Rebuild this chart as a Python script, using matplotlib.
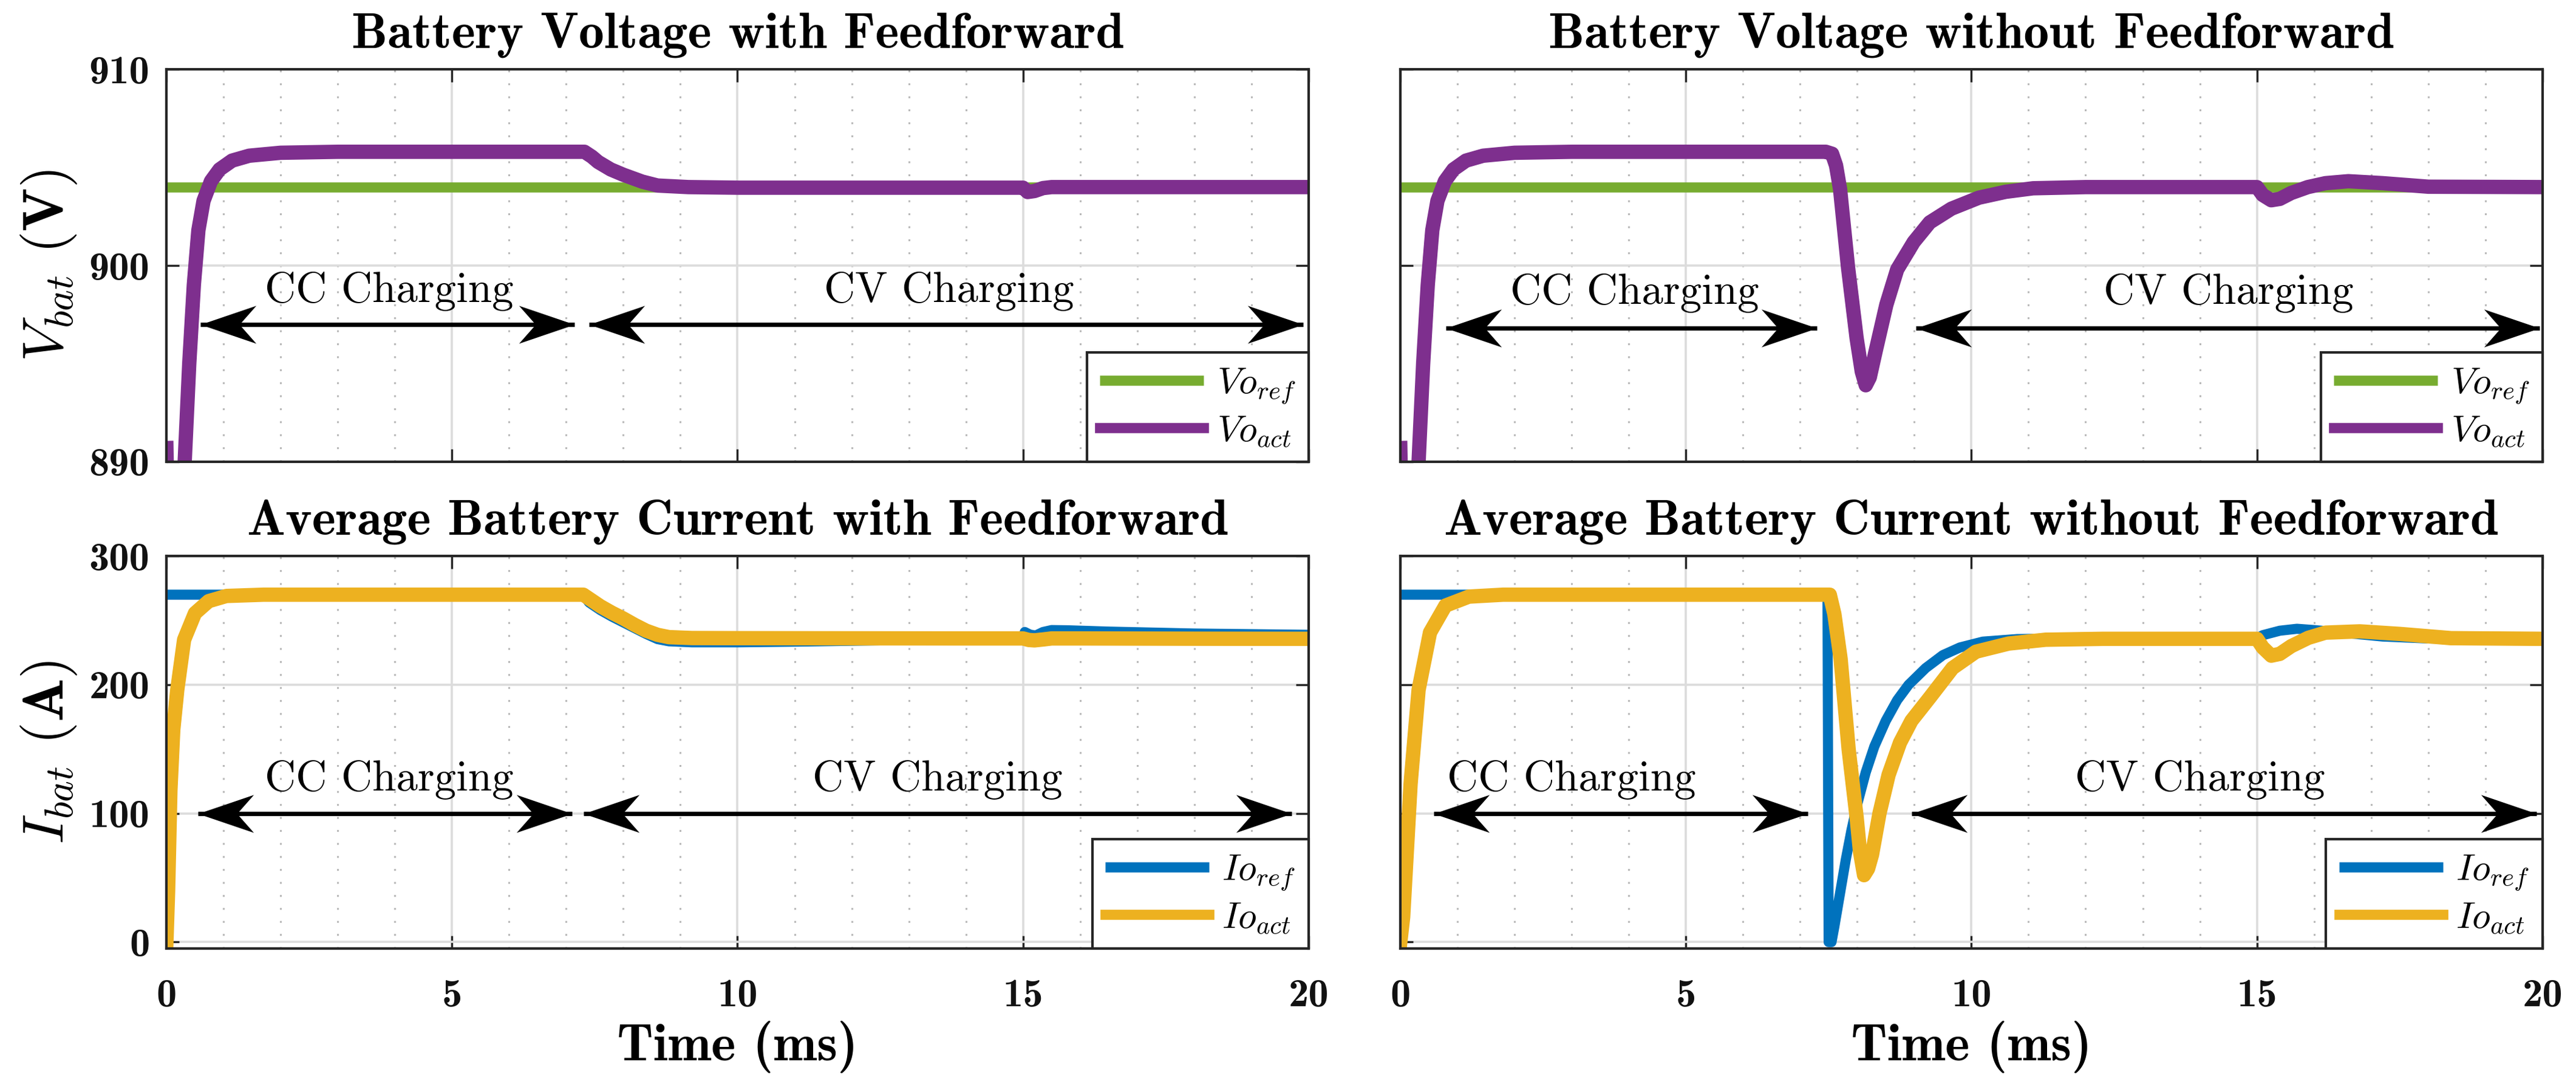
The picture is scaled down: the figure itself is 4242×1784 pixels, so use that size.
import matplotlib
matplotlib.use("Agg")
import matplotlib.pyplot as plt
from matplotlib.ticker import MultipleLocator, FixedLocator
from matplotlib.path import Path

plt.rcParams['mathtext.fontset'] = 'cm'
plt.rcParams['axes.unicode_minus'] = False

# ---------------- data ----------------
# Voltage, with feedforward
t_vref = [0, 20]
v_ref = [904.0, 904.0]

t_v_ff = [0, 0.03, 0.15, 0.28, 0.32, 0.4, 0.48, 0.56, 0.65, 0.78, 0.93, 1.15, 1.45, 2.0, 3.0,
          7.32, 7.45, 7.56, 7.78, 8.0, 8.33, 8.6, 9.14, 10, 12, 14, 15.0, 15.08, 15.2, 15.35,
          15.5, 16, 18, 20]
v_ff = [890.7, 886, 884, 888, 890, 895, 899, 901.8, 903.3, 904.3, 904.9, 905.35, 905.6, 905.75, 905.8,
        905.8, 905.55, 905.28, 904.9, 904.63, 904.28, 904.08, 904.0, 903.97, 903.97, 903.97, 903.97,
        903.75, 903.8, 903.95, 904.0, 904.0, 904.0, 904.0]

# Voltage, without feedforward
t_v_nff = [0, 0.03, 0.15, 0.28, 0.32, 0.4, 0.48, 0.56, 0.65, 0.78, 0.93, 1.15, 1.45, 2.0, 3.0,
           7.45, 7.56, 7.63, 7.7, 7.84, 7.99, 8.08, 8.15, 8.22, 8.32, 8.51, 8.7, 8.99, 9.27, 9.65,
           10.13, 10.6, 11.08, 12, 15, 15.1, 15.25, 15.4, 15.6, 15.89, 16.2, 16.6, 17.2, 18, 20]
v_nff = [890.7, 886, 884, 888, 890, 895, 899, 901.8, 903.3, 904.3, 904.9, 905.35, 905.6, 905.75, 905.8,
         905.8, 905.7, 905.1, 903.9, 899.9, 896.3, 894.6, 893.9, 894.3, 895.6, 898.0, 899.8, 901.2,
         902.2, 902.9, 903.46, 903.76, 903.94, 904.0, 904.0, 903.6, 903.33, 903.4, 903.7, 904.0,
         904.2, 904.3, 904.2, 904.02, 904.0]

# Current, with feedforward
t_iref_ff = [0, 7.3, 7.4, 7.6, 7.8, 8.0, 8.2, 8.4, 8.6, 8.8, 9.2, 10, 11, 12, 13, 14, 15, 15.03,
             15.12, 15.22, 15.35, 15.5, 15.8, 16.5, 18, 20]
i_ref_ff = [270, 270, 264, 258, 253, 248.5, 244, 239.5, 235.5, 233.8, 233, 233, 233.5, 234.2, 235,
            235.5, 236, 241, 239, 238.2, 241, 242.5, 242.3, 241.3, 239.8, 238.8]

t_iact_ff = [0, 0.03, 0.07, 0.12, 0.19, 0.31, 0.5, 0.74, 1.05, 1.7, 7.3, 7.45, 7.6, 7.8, 8.0, 8.2,
             8.4, 8.6, 8.8, 9.2, 10, 12, 14, 15, 15.1, 15.2, 15.35, 15.5, 16, 18, 20]
i_act_ff = [0, 40, 118, 165, 196, 235, 255.6, 265, 269, 270, 270, 265.5, 261, 256, 251.5, 246.5,
            242, 238.8, 237, 236.3, 236.2, 236.1, 236, 236, 234.8, 234.5, 235.2, 236, 236, 235.8, 235.7]

# Current, without feedforward
t_iref_nff = [0, 7.48, 7.5, 7.55, 7.6, 7.7, 7.8, 7.9, 8.0, 8.15, 8.3, 8.5, 8.7, 8.9, 9.2, 9.5, 9.8,
              10.2, 10.8, 12, 15, 15.1, 15.4, 15.7, 16.0, 16.5, 17.2, 18, 19, 20]
i_ref_nff = [270, 270, 0, 0, 12, 38, 64, 87, 107, 132, 152, 172, 188, 200, 213, 223, 229, 233.5,
             235.5, 236, 236, 238.5, 242, 243.5, 242.5, 240.5, 237.5, 236, 235.7, 235.7]

t_iact_nff = [0, 0.05, 0.18, 0.32, 0.52, 0.79, 1.2, 1.8, 7.52, 7.6, 7.71, 7.85, 7.99, 8.05, 8.12, 8.19,
              8.26, 8.39, 8.55, 8.75, 8.95, 9.27, 9.67, 10.08, 10.65, 11.3, 12.3, 15, 15.1, 15.25,
              15.4, 15.6, 15.9, 16.2, 16.8, 17.5, 18.4, 20]
i_act_nff = [0, 19.5, 123, 196, 240.6, 261.5, 268.5, 270, 270, 255, 220, 150, 97, 70, 52, 57, 68, 100,
             130, 155, 172, 190, 213, 225.7, 232, 235, 235.7, 235.7, 229, 222.6, 224, 230, 236.5, 240.5,
             241.5, 239.5, 236.2, 235.7]

titles = ["Battery Voltage with Feedforward", "Battery Voltage without Feedforward",
          "Average Battery Current with Feedforward", "Average Battery Current without Feedforward"]
x_ticks = [0, 5, 10, 15, 20]
v_ticks = [890, 900, 910]
i_ticks = [0, 100, 200, 300]

# annotation positions: (arrow start, arrow end, arrow level, text x, text y)
cc_ann = [(0.6, 7.15, 897.0, 3.9, 898.7), (0.8, 7.3, 896.8, 4.1, 898.6),
          (0.55, 7.1, 100, 3.9, 126), (0.59, 7.14, 100, 3.0, 126)]
cv_ann = [(7.4, 19.9, 897.0, 13.7, 898.7), (9.03, 19.95, 896.8, 14.5, 898.6),
          (7.3, 19.7, 100, 13.5, 126), (8.95, 19.9, 100, 14.0, 126)]

# ---------------- style ----------------
C_GREEN = '#77AC30'
C_PURPLE = '#7E2F8E'
C_BLUE = '#0072BD'
C_YELLOW = '#EDB120'

# stealth-like arrow heads (tip at origin)
HEAD_R = Path([(0, 0), (-1, 0.34), (-0.7, 0), (-1, -0.34), (0, 0)],
              [Path.MOVETO, Path.LINETO, Path.LINETO, Path.LINETO, Path.CLOSEPOLY])
HEAD_L = Path([(0, 0), (1, 0.34), (0.7, 0), (1, -0.34), (0, 0)],
              [Path.MOVETO, Path.LINETO, Path.LINETO, Path.LINETO, Path.CLOSEPOLY])


def dbl_arrow(ax, x0, x1, y):
    ax.plot([x0, x1], [y, y], color='k', lw=2.6, solid_capstyle='butt', zorder=5)
    ax.plot([x1], [y], marker=HEAD_R, ms=66, color='k', mew=0, zorder=5, linestyle='none')
    ax.plot([x0], [y], marker=HEAD_L, ms=66, color='k', mew=0, zorder=5, linestyle='none')


fig = plt.figure(figsize=(21.21, 8.92), dpi=200)
lefts = [0.0646, 0.5436]
bottoms = [0.574, 0.125]
W, H = 0.4434, 0.362

axes = []
for r in range(2):
    for c in range(2):
        axes.append(fig.add_axes([lefts[c], bottoms[r], W, H]))

series = [
    (t_vref, v_ref, t_v_ff, v_ff, C_GREEN, C_PURPLE, r'$Vo_{ref}$', r'$Vo_{act}$'),
    (t_vref, v_ref, t_v_nff, v_nff, C_GREEN, C_PURPLE, r'$Vo_{ref}$', r'$Vo_{act}$'),
    (t_iref_ff, i_ref_ff, t_iact_ff, i_act_ff, C_BLUE, C_YELLOW, r'$Io_{ref}$', r'$Io_{act}$'),
    (t_iref_nff, i_ref_nff, t_iact_nff, i_act_nff, C_BLUE, C_YELLOW, r'$Io_{ref}$', r'$Io_{act}$'),
]

for k, ax in enumerate(axes):
    tr, yr, ta, ya, cr, ca, lr, la = series[k]
    ax.plot(tr, yr, color=cr, lw=6, label=lr, solid_capstyle='butt')
    ax.plot(ta, ya, color=ca, lw=8.5, label=la, solid_joinstyle='round')
    ax.set_xlim(0, 20)
    if k < 2:
        ax.set_ylim(890, 910)
        ax.yaxis.set_major_locator(FixedLocator(v_ticks))
    else:
        ax.set_ylim(-5, 300)
        ax.yaxis.set_major_locator(FixedLocator(i_ticks))
    ax.xaxis.set_major_locator(FixedLocator(x_ticks))
    ax.xaxis.set_minor_locator(MultipleLocator(1))
    ax.set_axisbelow(True)
    ax.grid(True, which='major', color='#dcdcdc', lw=1.3)
    ax.grid(True, which='minor', axis='x', color='#b8b8b8', lw=1.1, ls=(0, (1, 6)))
    ax.tick_params(which='major', direction='in', length=7.5, width=1.2, top=True, right=True,
                   labelsize=24, labelfontfamily='cmb10', colors='#262626',
                   labelcolor='#111111')
    ax.tick_params(axis='x', which='major', pad=18)
    ax.tick_params(axis='y', which='major', pad=10)
    ax.tick_params(which='minor', length=0)
    for s in ax.spines.values():
        s.set_linewidth(1.5)
        s.set_color('#262626')
    if k % 2 == 1:
        ax.tick_params(labelleft=False)
    if k < 2:
        ax.tick_params(labelbottom=False)
    else:
        ax.set_xlabel('Time (ms)', fontfamily='cmb10', fontsize=31, labelpad=4)
    ax.set_title(titles[k], fontfamily='cmb10', fontsize=30, pad=13)

    x0, x1, ya_, tx, ty = cc_ann[k]
    dbl_arrow(ax, x0, x1, ya_)
    ax.text(tx, ty, 'CC Charging', fontfamily='cmr10', fontsize=25.5, ha='center', va='center')
    x0, x1, ya_, tx, ty = cv_ann[k]
    dbl_arrow(ax, x0, x1, ya_)
    ax.text(tx, ty, 'CV Charging', fontfamily='cmr10', fontsize=25.5, ha='center', va='center')

    leg = ax.legend(loc='lower right', borderaxespad=0, fancybox=False, edgecolor='#262626',
                    framealpha=1, fontsize=22, handlelength=2.8, handletextpad=0.35,
                    labelspacing=0.2, borderpad=0.35)
    leg.get_frame().set_linewidth(1.5)
    leg.set_zorder(10)
    for h in leg.get_lines():
        h.set_linewidth(6)

axes[0].set_ylabel(r'$V_{bat}$ $\mathbf{(V)}$', fontsize=34, labelpad=6)
axes[2].set_ylabel(r'$I_{bat}$ $\mathbf{(A)}$', fontsize=34, labelpad=6)

fig.savefig('out.png', dpi=200, facecolor='white')
